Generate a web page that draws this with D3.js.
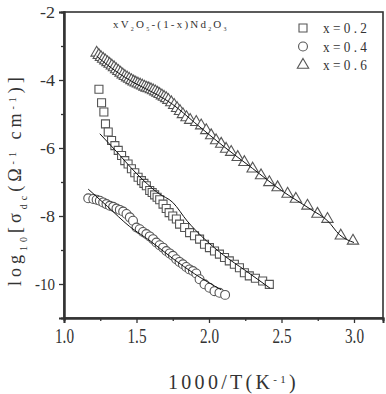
<!DOCTYPE html>
<html>
<head>
<meta charset="utf-8">
<script src="https://cdn.jsdelivr.net/npm/d3@7"></script>
<style>
  body { margin: 0; background: #fff; }
  svg { display: block; }
  text { font-family: "Liberation Serif", "DejaVu Serif", serif; fill: #333; }
</style>
</head>
<body>
<div id="chart"></div>
<script>
// x = 0.2 (squares)
var sqX = [1.241,1.259,1.275,1.286,1.305,1.328,1.351,1.374,1.397,1.419,1.442,1.465,1.488,1.511,1.534,1.551,1.568,1.591,1.608,1.625,1.642,1.660,1.683,1.705,1.725,1.750,1.775,1.797,1.832,1.866,1.900,1.935,1.969,2.003,2.038,2.072,2.107,2.140,2.175,2.210,2.244,2.278,2.320,2.370,2.416];
var sqY = [-4.27,-4.67,-4.94,-5.29,-5.53,-5.78,-5.93,-6.07,-6.22,-6.37,-6.47,-6.61,-6.73,-6.86,-6.96,-7.04,-7.11,-7.25,-7.31,-7.38,-7.45,-7.52,-7.65,-7.78,-7.90,-8.00,-8.09,-8.24,-8.34,-8.49,-8.58,-8.68,-8.83,-8.93,-9.03,-9.12,-9.22,-9.32,-9.42,-9.52,-9.67,-9.76,-9.83,-9.91,-10.01];
// x = 0.4 (circles)
var ciX = [1.167,1.202,1.225,1.247,1.270,1.293,1.316,1.339,1.362,1.385,1.408,1.431,1.454,1.476,1.500,1.522,1.545,1.568,1.591,1.614,1.637,1.660,1.683,1.706,1.729,1.751,1.774,1.797,1.820,1.843,1.866,1.889,1.912,1.935,1.969,2.003,2.038,2.072,2.111];
var ciY = [-7.48,-7.50,-7.52,-7.55,-7.60,-7.65,-7.70,-7.73,-7.78,-7.82,-7.87,-7.94,-8.04,-8.14,-8.34,-8.39,-8.47,-8.53,-8.60,-8.68,-8.78,-8.86,-8.93,-9.03,-9.10,-9.17,-9.27,-9.35,-9.42,-9.50,-9.57,-9.62,-9.69,-9.86,-10.01,-10.11,-10.21,-10.26,-10.32];
// x = 0.6 (triangles)
var trX = [1.225,1.240,1.255,1.270,1.285,1.300,1.315,1.330,1.345,1.360,1.375,1.390,1.405,1.420,1.435,1.450,1.465,1.480,1.495,1.510,1.525,1.540,1.555,1.570,1.585,1.600,1.615,1.630,1.645,1.660,1.675,1.690,1.705,1.720,1.740,1.760,1.780,1.800,1.820,1.845,1.870,1.912,1.946,1.981,2.015,2.049,2.084,2.118,2.153,2.198,2.244,2.301,2.359,2.416,2.473,2.542,2.599,2.679,2.748,2.817,2.909,2.993];
var trY = [-3.20,-3.27,-3.33,-3.38,-3.43,-3.48,-3.53,-3.58,-3.63,-3.69,-3.74,-3.79,-3.84,-3.89,-3.93,-3.97,-4.01,-4.05,-4.08,-4.11,-4.14,-4.17,-4.20,-4.23,-4.25,-4.28,-4.31,-4.34,-4.38,-4.42,-4.46,-4.50,-4.54,-4.59,-4.66,-4.74,-4.83,-4.92,-5.01,-5.10,-5.18,-5.24,-5.34,-5.48,-5.63,-5.78,-5.88,-6.03,-6.12,-6.27,-6.42,-6.61,-6.81,-7.01,-7.16,-7.35,-7.50,-7.70,-7.94,-8.09,-8.58,-8.73];

// fitted lines
var fitSqX = [1.247,1.35,1.50,1.65,1.75,1.85,1.95,2.10,2.25,2.42];
var fitSqY = [-5.58,-6.05,-6.75,-7.33,-7.60,-8.15,-8.60,-9.15,-9.60,-10.12];
var fitCiX = [1.167,1.30,1.45,1.60,1.75,1.90,2.084];
var fitCiY = [-7.21,-7.72,-8.30,-8.75,-9.25,-9.70,-10.17];
var fitTrX = [1.225,1.35,1.50,1.62,1.75,1.90,2.10,2.30,2.50,2.70,2.82,2.90,3.00];
var fitTrY = [-3.30,-3.72,-4.12,-4.38,-4.72,-5.25,-5.95,-6.60,-7.25,-7.80,-8.15,-8.55,-8.78];

var xMajor = [1.0, 1.5, 2.0, 2.5, 3.0];
var xMinor = [1.25, 1.75, 2.25, 2.75];
var yMajor = [-2, -4, -6, -8, -10];
var yMinor = [-3, -5, -7, -9];

var legendLabels = ["x = 0 . 2", "x = 0 . 4", "x = 0 . 6"];

var W = 386, H = 394;
var margin = {top: 12, right: 3, bottom: 76, left: 64};

var svg = d3.select("#chart").append("svg")
  .attr("width", W).attr("height", H);

var x = d3.scaleLinear().domain([1, 3.2]).range([margin.left, W - margin.right]);
var y = d3.scaleLinear().domain([-11, -2]).range([H - margin.bottom, margin.top]);

var markColor = "#555";

// frame
svg.append("rect")
  .attr("x", x(1)).attr("y", y(-2))
  .attr("width", x(3.2) - x(1)).attr("height", y(-11) - y(-2))
  .attr("fill", "none").attr("stroke", "#333").attr("stroke-width", 1.6);

// axes
var xAxis = svg.append("g").attr("transform", "translate(0," + y(-11) + ")")
  .call(d3.axisBottom(x).tickValues(xMajor).tickSize(5).tickPadding(6)
    .tickFormat(d3.format(".1f")));
svg.append("g").attr("transform", "translate(0," + y(-11) + ")")
  .call(d3.axisBottom(x).tickValues(xMinor).tickSize(3).tickFormat(""));
var yAxis = svg.append("g").attr("transform", "translate(" + x(1) + ",0)")
  .call(d3.axisLeft(y).tickValues(yMajor).tickSize(5).tickPadding(4)
    .tickFormat(function(d) { return d; }));
svg.append("g").attr("transform", "translate(" + x(1) + ",0)")
  .call(d3.axisLeft(y).tickValues(yMinor).tickSize(3).tickFormat(""));

svg.selectAll(".domain").attr("stroke", "#333").attr("stroke-width", 2);
svg.selectAll(".tick line").attr("stroke", "#333").attr("stroke-width", 1.3);
xAxis.selectAll("text").style("font-size", "20px").attr("fill", "#333")
  .attr("textLength", 19).attr("lengthAdjust", "spacingAndGlyphs");
yAxis.selectAll("text").style("font-size", "17px").attr("fill", "#333")
  .attr("lengthAdjust", "spacingAndGlyphs")
  .attr("textLength", function(d) { return d <= -10 ? 20 : 15; });

// markers
function zip(xs, ys) { return xs.map(function(v, i) { return [v, ys[i]]; }); }

var line = d3.line()
  .x(function(d) { return x(d[0]); })
  .y(function(d) { return y(d[1]); })
  .curve(d3.curveMonotoneX);

var sym = {
  square: d3.symbol().type(d3.symbolSquare).size(64),
  circle: d3.symbol().type(d3.symbolCircle).size(62),
  triangle: d3.symbol().type(d3.symbolTriangle).size(56)
};

function drawSeries(xs, ys, shape) {
  svg.append("g").selectAll("path")
    .data(zip(xs, ys)).enter().append("path")
    .attr("transform", function(d) { return "translate(" + x(d[0]) + "," + y(d[1]) + ")"; })
    .attr("d", sym[shape])
    .attr("fill", "#fff")
    .attr("stroke", markColor)
    .attr("stroke-width", 1.1);
}

drawSeries(ciX, ciY, "circle");
drawSeries(sqX, sqY, "square");
drawSeries(trX, trY, "triangle");

[[fitSqX, fitSqY], [fitCiX, fitCiY], [fitTrX, fitTrY]].forEach(function(f) {
  svg.append("path").datum(zip(f[0], f[1]))
    .attr("d", line).attr("fill", "none")
    .attr("stroke", "#111").attr("stroke-width", 1);
});

// legend
var shapes = ["square", "circle", "triangle"];
legendLabels.forEach(function(lab, i) {
  var ly = 28 + i * 18.5;
  svg.append("path").attr("transform", "translate(303," + ly + ")")
    .attr("d", sym[shapes[i]]).attr("fill", "#fff")
    .attr("stroke", markColor).attr("stroke-width", 1.1);
  svg.append("text").attr("x", 323).attr("y", ly + 5)
    .style("font-size", "15px").text(lab)
    .attr("textLength", 44).attr("lengthAdjust", "spacingAndGlyphs");
});

// composition title
var t = svg.append("text").attr("x", 113).attr("y", 28)
  .style("font-size", "11px").style("letter-spacing", "2.2px");
t.append("tspan").text("xV");
t.append("tspan").attr("baseline-shift", "sub").style("font-size", "6px").text("2");
t.append("tspan").attr("baseline-shift", "0").text("O");
t.append("tspan").attr("baseline-shift", "sub").style("font-size", "6px").text("5");
t.append("tspan").attr("baseline-shift", "0").text("-(1-x)Nd");
t.append("tspan").attr("baseline-shift", "sub").style("font-size", "6px").text("2");
t.append("tspan").attr("baseline-shift", "0").text("O");
t.append("tspan").attr("baseline-shift", "sub").style("font-size", "6px").text("3");

// x axis title
var xt = svg.append("text").attr("x", 168).attr("y", 389)
  .style("font-size", "20px").style("letter-spacing", "3.3px");
xt.append("tspan").text("1000/T(K");
xt.append("tspan").attr("baseline-shift", "super").style("font-size", "11px").text("-1");
xt.append("tspan").attr("baseline-shift", "0").text(")");

// y axis title
var yt = svg.append("text")
  .attr("transform", "translate(21,286) rotate(-90)")
  .style("font-size", "18px").style("letter-spacing", "4px");
yt.append("tspan").text("log");
yt.append("tspan").attr("baseline-shift", "sub").style("font-size", "10px").text("10");
yt.append("tspan").attr("baseline-shift", "0").text("[σ");
yt.append("tspan").attr("baseline-shift", "sub").style("font-size", "10px").text("dc");
yt.append("tspan").attr("baseline-shift", "0").text("(Ω");
yt.append("tspan").attr("baseline-shift", "super").style("font-size", "10px").text("-1");
yt.append("tspan").attr("baseline-shift", "0").text(" cm");
yt.append("tspan").attr("baseline-shift", "super").style("font-size", "10px").text("-1");
yt.append("tspan").attr("baseline-shift", "0").text(")]");
</script>
</body>
</html>
